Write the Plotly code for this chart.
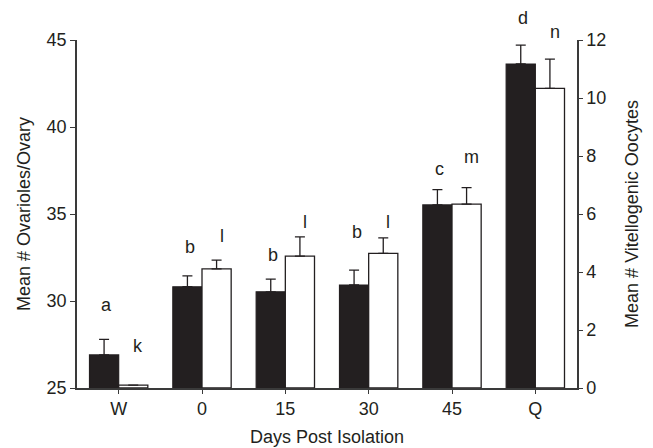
import plotly.graph_objects as go

categories = ["W", "0", "15", "30", "45", "Q"]
ovarioles = [26.9, 30.82, 30.53, 30.92, 35.52, 43.62]
ovarioles_err = [0.9, 0.62, 0.73, 0.86, 0.88, 1.09]
oocytes = [0.1, 4.11, 4.55, 4.64, 6.34, 10.33]
oocytes_err = [0.0, 0.30, 0.66, 0.54, 0.57, 1.01]
ovarioles_letters = ["a", "b", "b", "b", "c", "d"]
oocytes_letters = ["k", "l", "l", "l", "m", "n"]

# pixel gaps between top of error bar and letter baseline
ov_gap = [27, 22, 17, 31, 14, 20]
oc_gap = [32, 17, 8, 9, 24, 20]

xs = list(range(len(categories)))
font = "Liberation Sans, Arial, sans-serif"
axcol = "#3a3a3a"
FS = 18

fig = go.Figure()
fig.add_trace(go.Bar(
    x=xs, y=ovarioles, width=0.35, offset=-0.35,
    marker=dict(color="#231f20", line=dict(color="#231f20", width=1.2)),
    error_y=dict(type="data", array=ovarioles_err, arrayminus=[0]*6,
                 symmetric=False, color="#231f20", thickness=1.3, width=5),
    yaxis="y", showlegend=False,
))
fig.add_trace(go.Bar(
    x=xs, y=oocytes, width=0.35, offset=0,
    marker=dict(color="white", line=dict(color="#231f20", width=1.3)),
    error_y=dict(type="data", array=oocytes_err, arrayminus=[0]*6,
                 symmetric=False, color="#231f20", thickness=1.3, width=5),
    yaxis="y2", showlegend=False,
))

for i in xs:
    fig.add_annotation(x=i - 0.175 + 0.03, y=ovarioles[i] + ovarioles_err[i],
                       xref="x", yref="y", text=ovarioles_letters[i],
                       showarrow=False, yanchor="bottom", yshift=ov_gap[i] - 5,
                       font=dict(family=font, size=FS, color="#231f20"))
    fig.add_annotation(x=i + 0.175 + 0.06, y=oocytes[i] + oocytes_err[i],
                       xref="x", yref="y2", text=oocytes_letters[i],
                       showarrow=False, yanchor="bottom", yshift=oc_gap[i] - 5,
                       font=dict(family=font, size=FS, color="#231f20"))

fig.update_layout(
    width=645, height=440,
    margin=dict(l=69, r=76, t=32, b=60),
    paper_bgcolor="white", plot_bgcolor="white",
    font=dict(family=font, size=FS, color="#231f20"),
    bargap=0.3,
    xaxis=dict(range=[-0.5, 5.5], tickvals=xs, ticktext=categories,
               showline=True, linecolor=axcol, linewidth=1.5,
               ticks="outside", ticklen=4, tickcolor=axcol, showgrid=False,
               zeroline=False, tickfont=dict(size=FS), automargin=False,
               title=dict(text="Days Post Isolation", standoff=12,
                          font=dict(size=FS))),
    yaxis=dict(range=[25, 45], dtick=5, showline=True, linecolor=axcol,
               linewidth=1.5, ticks="outside", ticklen=5, tickcolor=axcol,
               showgrid=False, zeroline=False, tickfont=dict(size=FS),
               automargin=False,
               title=dict(text="Mean # Ovarioles/Ovary", standoff=11,
                          font=dict(size=FS))),
    yaxis2=dict(range=[0, 12], dtick=2, overlaying="y", side="right",
                showline=True, linecolor=axcol, linewidth=1.5,
                ticks="outside", ticklen=4, tickcolor=axcol,
                showgrid=False, zeroline=False, tickfont=dict(size=FS),
                automargin=False,
                title=dict(text="Mean # Vitellogenic Oocytes", standoff=20,
                           font=dict(size=FS))),
)

fig.write_html("out.html")
